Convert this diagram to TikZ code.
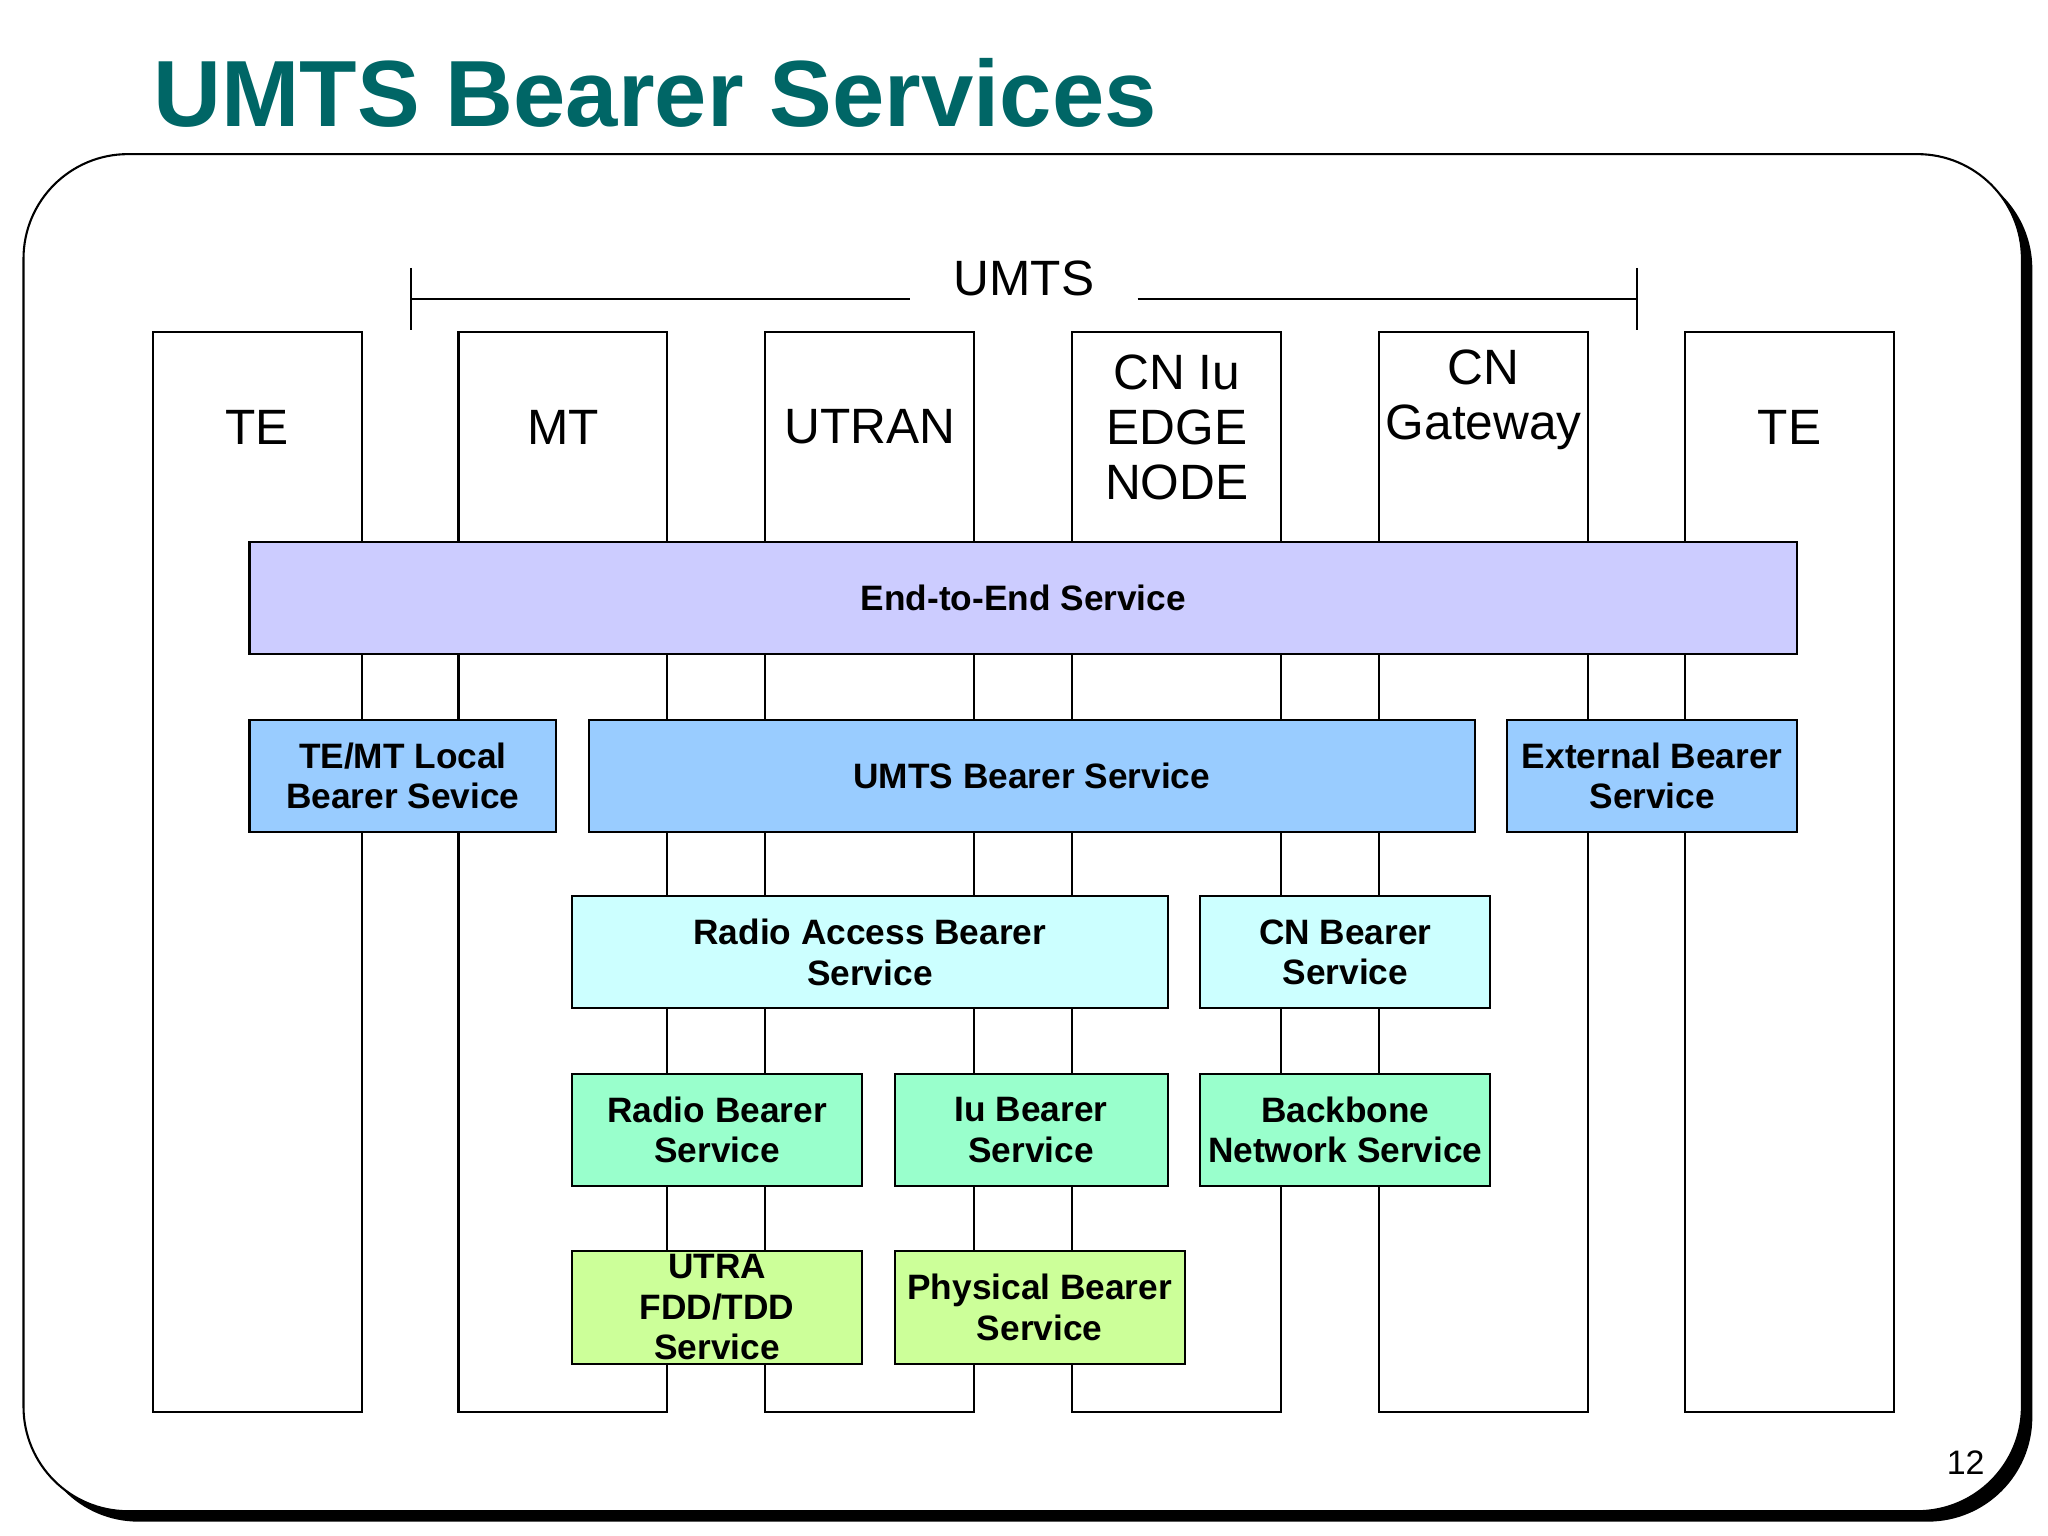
\documentclass[tikz,border=0pt]{standalone}
\usepackage{fontspec}
\setmainfont{Liberation Sans}
\begin{document}
\begin{tikzpicture}[x=0.5pt,y=-0.5pt,
 col/.style={draw=black,line width=0.8pt},
 bx/.style={draw=black,line width=0.8pt,font=\bfseries\fontsize{13.5}{15.5}\selectfont,align=center},
 cl/.style={font=\fontsize{19}{21}\selectfont,align=center}]
\useasboundingbox (0,0) rectangle (1568,1176);
\definecolor{teal}{RGB}{0,102,102}
\node[anchor=base west,text=teal,font=\bfseries\fontsize{36}{40}\selectfont,inner sep=0] (title) at (117,97) {UMTS Bearer Services};
\fill[black] (26,126) [rounded corners=40pt] rectangle (1556,1165);
\draw[fill=white,line width=0.8pt,rounded corners=40pt] (18,118) rectangle (1548,1157);
% UMTS bracket
\node[cl] (umts) at (784,213) {UMTS};
\coordinate (bl) at (315,229); \coordinate (br) at (1253,229);
\draw[line width=0.8pt] (bl) -- (697,229) (871,229) -- (br) (315,205) -- (315,253) (1253,205) -- (1253,253);
% columns
\foreach \n/\x in {c1/117,c2/351,c3/586,c4/821,c5/1056,c6/1290}{
 \draw[col] (\x,254) rectangle (\x+160,1081);}
\node[cl] (te1) at (197,327) {TE};
\node[cl] (mt) at (431,327) {MT};
\node[cl] (utran) at (666,327) {UTRAN};
\node[cl] (cniu) at (901,327) {CN Iu\\EDGE\\NODE};
\node[cl] (cngw) at (1136,306) {CN\\Gateway};
\node[cl] (te2) at (1370,327) {TE};
% boxes
\definecolor{e2e}{RGB}{204,204,255}
\definecolor{bs}{RGB}{153,204,255}
\definecolor{rab}{RGB}{204,255,255}
\definecolor{rb}{RGB}{153,255,204}
\definecolor{ph}{RGB}{204,255,153}
\newcommand{\bxx}[7]{\draw[bx,fill=#6] (#2,#4) rectangle (#3,#5); \node[bx,draw=none] (#1) at ({(#2+#3)/2},{(#4+#5)/2}) {#7};}
\bxx{e2e}{191}{1376}{415}{501}{e2e}{End-to-End Service}
\bxx{temt}{191}{426}{551}{637}{bs}{TE/MT Local\\Bearer Sevice}
\bxx{ubs}{451}{1129}{551}{637}{bs}{UMTS Bearer Service}
\bxx{ext}{1154}{1376}{551}{637}{bs}{External Bearer\\Service}
\bxx{rabs}{438}{894}{686}{772}{rab}{Radio Access Bearer\\Service}
\bxx{cnb}{919}{1141}{686}{772}{rab}{CN Bearer\\Service}
\bxx{rbs}{438}{660}{822}{908}{rb}{Radio Bearer\\Service}
\bxx{iub}{685}{894}{822}{908}{rb}{Iu Bearer\\Service}
\bxx{bb}{919}{1141}{822}{908}{rb}{Backbone\\Network Service}
\bxx{utra}{438}{660}{958}{1044}{ph}{UTRA\\FDD/TDD\\Service}
\bxx{phy}{685}{907}{958}{1044}{ph}{Physical Bearer\\Service}
\node[font=\fontsize{13}{15}\selectfont] (pg) at (1505,1120) {12};
\end{tikzpicture}
\end{document}
